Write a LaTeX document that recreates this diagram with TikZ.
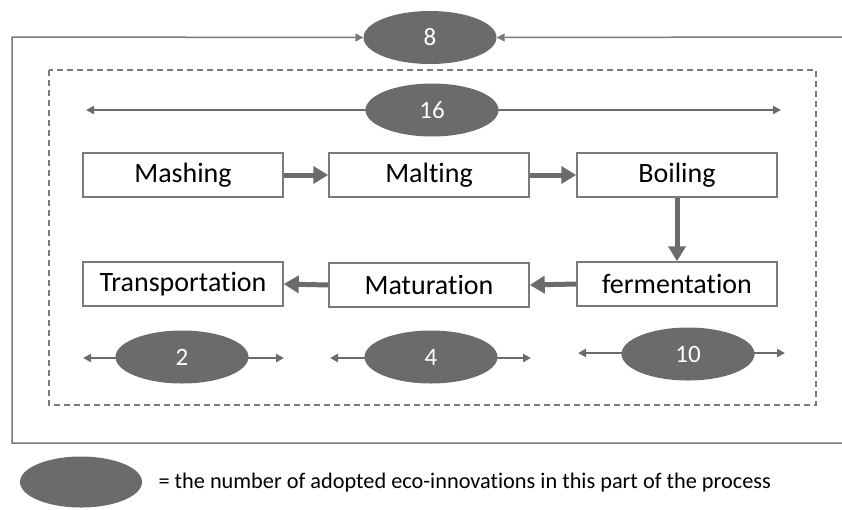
\documentclass[tikz,border=0pt]{standalone}
\usepackage{fontspec}
\setmainfont{Carlito}[Ligatures=NoCommon]
\usetikzlibrary{shapes.geometric,arrows.meta}

\definecolor{ecogray}{HTML}{6B6B6B}
\definecolor{linegray}{HTML}{7A7A7A}

\tikzset{
  stage/.style={draw=linegray, line width=1.5pt, fill=white, minimum width=200pt,
    minimum height=44pt, inner sep=0pt, font=\fontsize{28}{30}\selectfont},
  count/.style={ellipse, fill=ecogray, minimum width=133pt, minimum height=53pt,
    inner sep=0pt, text=white, font=\fontsize{25}{27}\selectfont},
  flow/.style={draw=ecogray, line width=5pt, -{Triangle[length=15pt,width=17pt]}},
  span/.style={draw=ecogray, line width=2pt, {Triangle[length=8pt,width=8pt]}-{Triangle[length=8pt,width=8pt]}},
  frame/.style={draw=linegray, line width=1.5pt}
}

\begin{document}
\begin{tikzpicture}[x=1pt, y=-1pt]
\useasboundingbox (0,0) rectangle (842,509);

% outer frame with the whole chain
\node[count] (n8) at (430,37.5) {8};
\coordinate (outtl) at (12,37);
\coordinate (outbl) at (12,443);
\coordinate (outbr) at (842,443);
\coordinate (outtr) at (842,37);
\draw[frame, -{Triangle[length=8pt,width=8pt]}] (outbr) -- (outbl) -- (outtl) -- (n8.west);
\draw[frame, -{Triangle[length=8pt,width=8pt]}] (outtr) -- (n8.east);

% brewery (dashed)
\draw[frame, dash pattern=on 6pt off 4pt] (49,70) rectangle (816,405);

\coordinate (l16) at (86,110);
\coordinate (r16) at (781,110);
\draw[span] (l16) -- (r16);
\node[count] (n16) at (432,110) {16};

% process steps
\node[stage] (mashing) at (183,175) {Mashing};
\node[stage] (malting) at (429,175) {Malting};
\node[stage] (boiling) at (677,175) {Boiling};
\node[stage] (fermentation) at (677,284) {fermentation};
\node[stage] (maturation) at (429,285) {Maturation};
\node[stage] (transport) at (183,284) {Transportation};

\draw[flow] (mashing) -- (malting);
\draw[flow] (malting) -- (boiling);
\draw[flow] (boiling) -- (fermentation);
\draw[flow] (fermentation.west) -- (maturation.east);
\draw[flow] (maturation.west) -- (transport.east);

% counts per part
\coordinate (l2) at (83,358);
\coordinate (r2) at (284,358);
\draw[span] (l2) -- (r2);
\node[count] (n2) at (182,357) {2};

\coordinate (l4) at (330,358);
\coordinate (r4) at (531,358);
\draw[span] (l4) -- (r4);
\node[count] (n4) at (431,357) {4};

\coordinate (l10) at (578,353);
\coordinate (r10) at (785,353);
\draw[span] (l10) -- (r10);
\node[count] (n10) at (688,354) {10};

% legend
\node[count, minimum width=122pt, minimum height=51pt] (key) at (81,482) {};
\node[anchor=west, font=\fontsize{22.3}{24}\selectfont] (keytext) at (155,483)
  {= the number of adopted eco-innovations in this part of the process};
\end{tikzpicture}
\end{document}
